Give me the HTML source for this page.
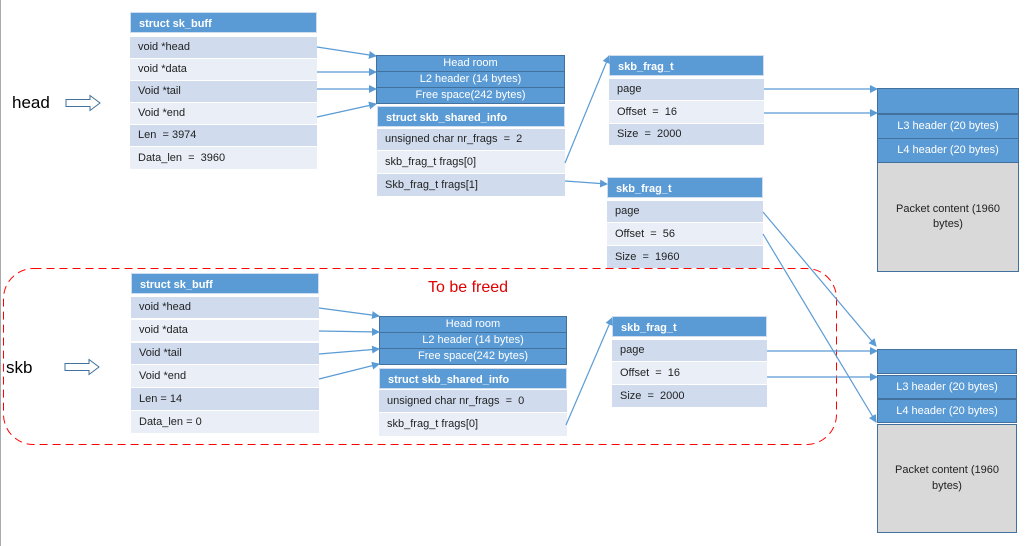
<!DOCTYPE html>
<html><head><style>
body{margin:0;width:1026px;height:546px;background:#fff;position:relative;overflow:hidden;font-family:"Liberation Sans",sans-serif;}
.b{position:absolute;box-sizing:border-box;font-size:11px;line-height:1;display:flex;align-items:center;}
.h{background:#5b9bd5;color:#fff;font-weight:bold;padding-left:8px;padding-top:4px;border:1px solid #d0dcef;}
.r1{background:#d0dcee;color:#222;padding-left:8px;}
.r2{background:#e9eef7;color:#222;padding-left:8px;}
.c{background:#5b9bd5;color:#fff;justify-content:center;border:1px solid #41719c;}
.g{background:#d9d9d9;color:#222;justify-content:center;text-align:center;border:1px solid #41719c;line-height:1.4;}
svg{position:absolute;left:0;top:0;}
</style></head><body>
<div style="position:absolute;left:0;top:0;width:1px;height:546px;background:#aaa"></div>
<!-- top sk_buff -->
<div class="b h" style="left:130px;top:12px;width:187px;height:21px">struct sk_buff</div>
<div class="b r1" style="left:130px;top:37px;width:187px;height:21px">void *head</div>
<div class="b r2" style="left:130px;top:59px;width:187px;height:21px">void *data</div>
<div class="b r1" style="left:130px;top:81px;width:187px;height:21px">Void *tail</div>
<div class="b r2" style="left:130px;top:103px;width:187px;height:21px">Void *end</div>
<div class="b r1" style="left:130px;top:125px;width:187px;height:21px">Len&nbsp; = 3974</div>
<div class="b r2" style="left:130px;top:147px;width:187px;height:22px">Data_len&nbsp; =&nbsp; 3960</div>
<div class="b c" style="left:376px;top:55px;width:189px;height:17px">Head room</div>
<div class="b c" style="left:376px;top:71px;width:189px;height:17px">L2 header (14 bytes)</div>
<div class="b c" style="left:376px;top:87px;width:189px;height:17px">Free space(242 bytes)</div>
<div class="b h" style="left:377px;top:106px;width:188px;height:21px">struct skb_shared_info</div>
<div class="b r1" style="left:377px;top:129px;width:188px;height:21px">unsigned char nr_frags&nbsp; =&nbsp; 2</div>
<div class="b r2" style="left:377px;top:151px;width:188px;height:22px">skb_frag_t frags[0]</div>
<div class="b r1" style="left:377px;top:174px;width:188px;height:22px">Skb_frag_t frags[1]</div>
<div class="b h" style="left:609px;top:55px;width:155px;height:21px">skb_frag_t</div>
<div class="b r1" style="left:609px;top:79px;width:155px;height:21px">page</div>
<div class="b r2" style="left:609px;top:101px;width:155px;height:22px">Offset&nbsp; =&nbsp; 16</div>
<div class="b r1" style="left:609px;top:124px;width:155px;height:21px">Size&nbsp; =&nbsp; 2000</div>
<div class="b h" style="left:607px;top:177px;width:156px;height:21px">skb_frag_t</div>
<div class="b r1" style="left:607px;top:201px;width:156px;height:21px">page</div>
<div class="b r2" style="left:607px;top:223px;width:156px;height:22px">Offset&nbsp; =&nbsp; 56</div>
<div class="b r1" style="left:607px;top:246px;width:156px;height:22px">Size&nbsp; =&nbsp; 1960</div>
<div class="b c" style="left:877px;top:88px;width:142px;height:26px"></div>
<div class="b c" style="left:877px;top:114px;width:142px;height:25px">L3 header (20 bytes)</div>
<div class="b c" style="left:877px;top:138px;width:142px;height:25px">L4 header (20 bytes)</div>
<div class="b g" style="left:877px;top:162px;width:142px;height:110px">Packet content (1960<br>bytes)</div>
<!-- bottom -->
<div class="b h" style="left:131px;top:273px;width:188px;height:21px">struct sk_buff</div>
<div class="b r1" style="left:131px;top:297px;width:188px;height:21px">void *head</div>
<div class="b r2" style="left:131px;top:320px;width:188px;height:21px">void *data</div>
<div class="b r1" style="left:131px;top:343px;width:188px;height:21px">Void *tail</div>
<div class="b r2" style="left:131px;top:365px;width:188px;height:22px">Void *end</div>
<div class="b r1" style="left:131px;top:388px;width:188px;height:22px">Len = 14</div>
<div class="b r2" style="left:131px;top:411px;width:188px;height:22px">Data_len = 0</div>
<div class="b c" style="left:379px;top:316px;width:188px;height:17px">Head room</div>
<div class="b c" style="left:379px;top:332px;width:188px;height:17px">L2 header (14 bytes)</div>
<div class="b c" style="left:379px;top:348px;width:188px;height:17px">Free space(242 bytes)</div>
<div class="b h" style="left:379px;top:368px;width:188px;height:21px">struct skb_shared_info</div>
<div class="b r1" style="left:379px;top:390px;width:188px;height:22px">unsigned char nr_frags&nbsp; =&nbsp; 0</div>
<div class="b r2" style="left:379px;top:413px;width:188px;height:23px">skb_frag_t frags[0]</div>
<div class="b h" style="left:612px;top:316px;width:155px;height:21px">skb_frag_t</div>
<div class="b r1" style="left:612px;top:340px;width:155px;height:21px">page</div>
<div class="b r2" style="left:612px;top:362px;width:155px;height:22px">Offset&nbsp; =&nbsp; 16</div>
<div class="b r1" style="left:612px;top:385px;width:155px;height:22px">Size&nbsp; =&nbsp; 2000</div>
<div class="b c" style="left:877px;top:349px;width:140px;height:25px"></div>
<div class="b c" style="left:877px;top:375px;width:140px;height:24px">L3 header (20 bytes)</div>
<div class="b c" style="left:877px;top:399px;width:140px;height:24px">L4 header (20 bytes)</div>
<div class="b g" style="left:877px;top:424px;width:140px;height:109px">Packet content (1960<br>bytes)</div>
<div style="position:absolute;left:12px;top:93px;font-size:17px;color:#000">head</div>
<div style="position:absolute;left:6px;top:358px;font-size:17px;color:#000">skb</div>
<div style="position:absolute;left:428px;top:279px;font-size:16px;color:#e00000">To be freed</div>
<svg width="1026" height="546">
<defs><marker id="a" markerWidth="8" markerHeight="8" refX="7" refY="4" orient="auto" markerUnits="userSpaceOnUse"><path d="M0,0L8,4L0,8z" fill="#5b9bd5"/></marker></defs>
<rect x="3.5" y="268.5" width="833" height="176" rx="30" fill="none" stroke="#f00" stroke-dasharray="8,5"/>
<g stroke="#5b9bd5" stroke-width="1.2" fill="none" marker-end="url(#a)">
<path d="M317,47L376,56"/><path d="M317,72L376,72"/><path d="M317,89L376,89"/><path d="M317,117L376,104"/>
<path d="M565,163L609,56"/><path d="M565,181L607,184"/>
<path d="M764,89L877,89"/><path d="M764,113L877,113"/>
<path d="M763,212L876,346"/><path d="M763,234L876,422"/>
<path d="M319,308L379,316"/><path d="M319,331L379,332"/><path d="M319,354L379,349"/><path d="M319,379L379,364"/>
<path d="M566,425L612,318"/>
<path d="M767,351L877,351"/><path d="M767,377L877,377"/>
</g>
<g stroke="#41719c" fill="#fff"><path d="M66,99.5h24v-4l10,7.5l-10,7.5v-4h-24z"/><path d="M65,363.5h24v-4l10,7.5l-10,7.5v-4h-24z"/></g>
</svg>
</body></html>
